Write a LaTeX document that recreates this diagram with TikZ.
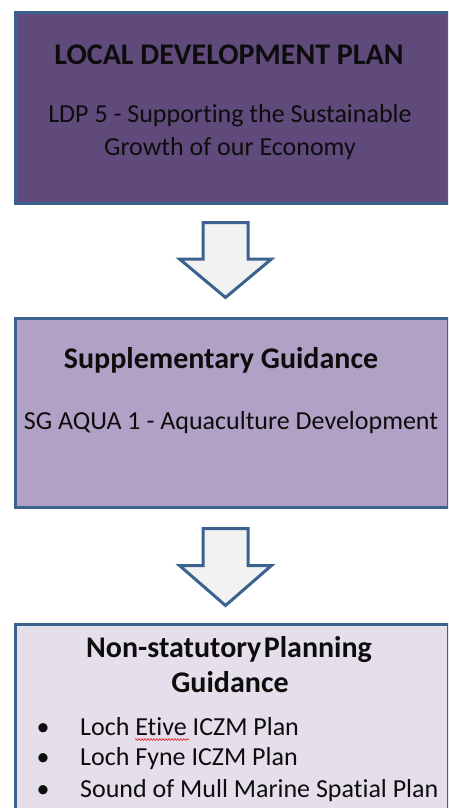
\documentclass[tikz,border=0pt]{standalone}
\usepackage{fontspec}
\setmainfont{Carlito}[Ligatures={NoCommon}, RawFeature={-liga;-clig}]
\usetikzlibrary{decorations.pathmorphing}
\definecolor{edge}{HTML}{3C6290}
\definecolor{ldpfill}{HTML}{5F4A7B}
\definecolor{sgfill}{HTML}{B1A1C7}
\definecolor{nsfill}{HTML}{E5DFEC}
\definecolor{arrowfill}{HTML}{F2F2F2}
\definecolor{inkdark}{HTML}{0D0D0D}
\definecolor{spellred}{HTML}{E02020}
\tikzset{
  x=1pt, y=-1pt,
  tier/.style={draw=edge, line width=3pt, rectangle, inner sep=0pt, anchor=north west},
  blockarrow/.style={draw=edge, fill=arrowfill, line width=3pt, line join=miter},
  head/.style={font=\fontsize{30}{36}\selectfont\bfseries, text=inkdark, anchor=base, inner sep=0pt},
  body/.style={font=\fontsize{26}{31}\selectfont, text=inkdark, anchor=base, inner sep=0pt},
  item/.style={font=\fontsize{26}{31}\selectfont, text=inkdark, anchor=base west, inner sep=0pt},
  squiggle/.style={draw=spellred, line width=0.6pt, decorate,
    decoration={snake, amplitude=0.9pt, segment length=3pt}},
}
\begin{document}
\begin{tikzpicture}
\useasboundingbox (0,0) rectangle (448,808);
\clip (0,0) rectangle (448,808);

% tier boxes
\node[tier, fill=ldpfill, minimum width=432.3pt, minimum height=190.7pt] (ldp) at (14.2,10.8) {};
\node[tier, fill=sgfill,  minimum width=432.3pt, minimum height=189pt]   (sg)  at (14.2,316.5) {};
\node[tier, fill=nsfill,  minimum width=432.3pt, minimum height=200pt]   (ns)  at (14.2,622.5) {};

% block arrows between tiers
\coordinate (a1) at (225.5,222.5);
\coordinate (a2) at (225.5,528.5);
\foreach \t/\h/\p in {a1/36.5/75, a2/37/77} {
  \draw[blockarrow] ([xshift=-22.5pt]\t) -- ([xshift=22.5pt]\t)
    -- ([xshift=22.5pt,yshift=-\h pt]\t) -- ([xshift=46pt,yshift=-\h pt]\t)
    -- ([yshift=-\p pt]\t) -- ([xshift=-46pt,yshift=-\h pt]\t)
    -- ([xshift=-22.5pt,yshift=-\h pt]\t) -- cycle;
}

% texts
\node[head] (t1) at (229,64) {LOCAL DEVELOPMENT PLAN};
\node[body] (b1) at (230,122) {LDP 5 - Supporting the Sustainable};
\node[body] (b2) at (230,155) {Growth of our Economy};

\node[head] (t2) at (221,368) {Supplementary Guidance};
\node[body] (b3) at (231,429) {SG AQUA 1 - Aquaculture Development};

\node[head] (t3) at (229,657) {Non-statutory\hspace{0.08em}Planning};
\node[head] (t4) at (230,692) {Guidance};
\foreach \y/\txt/\n in {735/{Loch Etive ICZM Plan}/i1, 765/{Loch Fyne ICZM Plan}/i2, 797/{Sound of Mull Marine Spatial Plan}/i3} {
  \node[item] (\n) at (80,\y) {\txt};
  \node[body] (\n b) at (43,\y) {\textbullet};
}
% spell-check mark under "Etive"
\coordinate (sq1) at (135,739.5);
\coordinate (sq2) at (189,739.5);
\draw[squiggle] (sq1) -- (sq2);
\end{tikzpicture}
\end{document}
